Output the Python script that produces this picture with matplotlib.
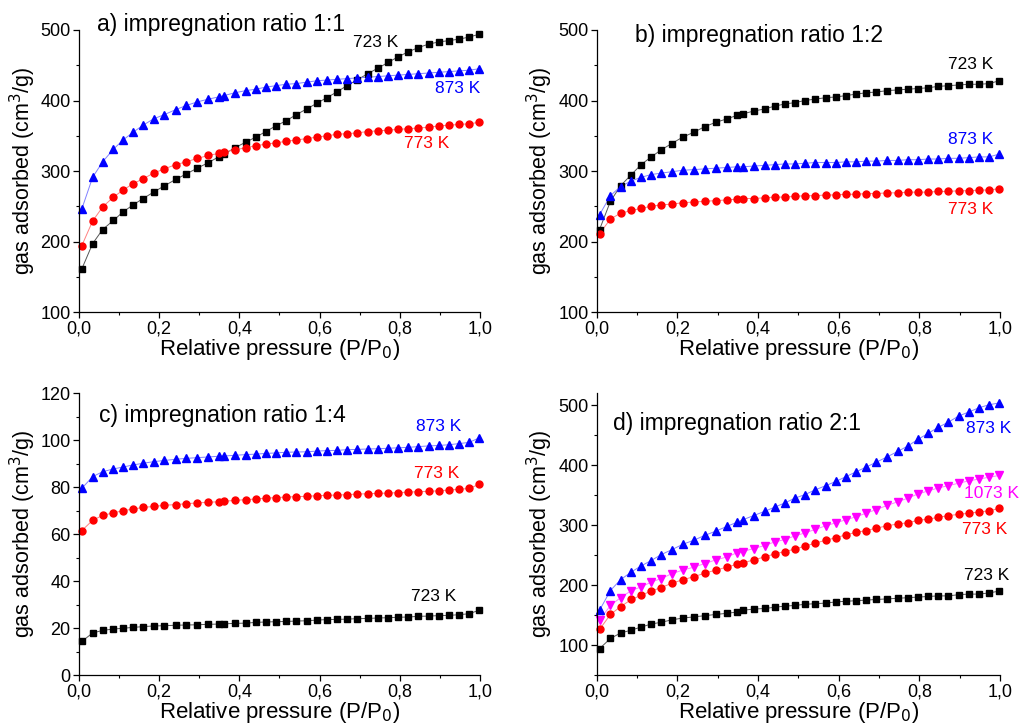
import matplotlib
matplotlib.use("Agg")
import matplotlib.pyplot as plt
from matplotlib.ticker import MultipleLocator, FuncFormatter

plt.rcParams["font.family"] = ["Liberation Sans", "DejaVu Sans"]

# relative pressure points (shared by all isotherms)
p_rel = [0.007, 0.034, 0.059, 0.086, 0.110, 0.135, 0.160, 0.186, 0.213, 0.241,
         0.268, 0.295, 0.323, 0.348, 0.362, 0.389, 0.416, 0.441, 0.466, 0.491,
         0.516, 0.542, 0.568, 0.593, 0.618, 0.643, 0.668, 0.693, 0.720, 0.746,
         0.771, 0.796, 0.821, 0.846, 0.872, 0.897, 0.923, 0.948, 0.973, 0.998]

# a) impregnation ratio 1:1
a_723 = [161, 197, 217, 230, 242, 252, 261, 270, 279, 288, 296, 304, 312, 320, 324,
         333, 341, 348, 356, 364, 371, 380, 388, 396, 404, 412, 421, 429, 438, 446,
         454, 462, 469, 475, 480, 483, 485, 487, 490, 494]
a_773 = [194, 229, 249, 263, 273, 282, 289, 297, 303, 309, 313, 318, 322, 325, 327,
         330, 333, 336, 338, 340, 342, 344, 346, 348, 350, 352, 353, 354, 356, 357,
         358, 359, 360, 361, 362, 364, 365, 366, 367, 369]
a_873 = [246, 291, 313, 331, 344, 355, 365, 374, 380, 387, 393, 398, 402, 405, 407,
         411, 414, 416, 419, 421, 423, 424, 426, 428, 429, 430, 431, 432, 433, 434,
         435, 436, 437, 438, 439, 440, 441, 442, 443, 445]

# b) impregnation ratio 1:2
b_723 = [217, 257, 279, 295, 309, 320, 330, 339, 348, 355, 363, 369, 374, 379, 381,
         385, 388, 392, 395, 397, 400, 402, 404, 405, 407, 409, 411, 412, 414, 415,
         416, 417, 418, 420, 421, 422, 423, 423, 424, 428]
b_773 = [211, 232, 240, 244, 247, 250, 252, 253, 255, 256, 257, 258, 259, 260, 261,
         261, 262, 263, 263, 264, 265, 265, 266, 266, 267, 267, 268, 268, 269, 269,
         270, 270, 270, 271, 271, 272, 272, 273, 273, 275]
b_873 = [238, 265, 278, 286, 291, 295, 297, 299, 301, 302, 303, 304, 305, 306, 306,
         307, 308, 309, 310, 310, 311, 312, 312, 312, 313, 313, 314, 314, 315, 315,
         316, 316, 317, 317, 318, 318, 319, 320, 320, 324]

# c) impregnation ratio 1:4
c_723 = [14.3, 17.9, 19.0, 19.6, 19.9, 20.3, 20.6, 20.9, 21.0, 21.2, 21.3, 21.4, 21.6,
         21.7, 21.8, 22.0, 22.1, 22.4, 22.6, 22.7, 22.8, 23.0, 23.1, 23.4, 23.6, 23.7,
         23.8, 24.0, 24.1, 24.3, 24.4, 24.6, 24.7, 25.0, 25.1, 25.3, 25.4, 25.7, 26.1, 27.6]
c_773 = [61.5, 65.9, 68.0, 69.1, 70.0, 70.7, 71.4, 71.8, 72.3, 72.6, 73.0, 73.3, 73.6,
         73.8, 74.0, 74.4, 74.7, 75.0, 75.3, 75.6, 75.8, 76.0, 76.1, 76.4, 76.5, 76.7,
         76.8, 77.1, 77.2, 77.4, 77.5, 77.7, 77.9, 78.1, 78.2, 78.5, 78.8, 79.1, 79.5, 81.2]
c_873 = [79.5, 84.5, 86.6, 87.8, 88.6, 89.5, 90.2, 90.9, 91.4, 91.9, 92.3, 92.6, 92.9,
         93.2, 93.3, 93.6, 93.9, 94.1, 94.4, 94.6, 94.9, 95.0, 95.1, 95.4, 95.6, 95.7,
         96.0, 96.1, 96.3, 96.4, 96.6, 96.8, 97.0, 97.3, 97.6, 97.8, 98.1, 98.6, 99.1, 101.0]

# d) impregnation ratio 2:1
d_723 = [94, 111, 120, 125, 130, 135, 138, 142, 145, 147, 149, 151, 153, 155, 158,
         160, 161, 163, 165, 166, 168, 169, 170, 172, 173, 174, 175, 176, 177, 178,
         179, 180, 181, 182, 182, 184, 185, 185, 187, 190]
d_773 = [126, 151, 164, 176, 183, 190, 196, 203, 209, 214, 220, 225, 230, 235, 237,
         242, 247, 252, 256, 260, 265, 270, 275, 279, 284, 288, 291, 295, 299, 302,
         304, 308, 310, 313, 316, 318, 320, 322, 324, 328]
d_873 = [158, 191, 209, 222, 232, 241, 251, 259, 268, 275, 283, 290, 298, 305, 309,
         316, 323, 330, 337, 345, 351, 359, 366, 373, 381, 389, 397, 405, 414, 423,
         432, 443, 453, 463, 472, 482, 489, 496, 501, 504]
d_1073 = [142, 166, 179, 191, 197, 205, 211, 219, 225, 230, 236, 242, 247, 254, 256,
          261, 266, 272, 276, 282, 287, 293, 299, 304, 309, 314, 320, 326, 333, 339,
          345, 352, 357, 362, 366, 370, 374, 377, 380, 383]

styles = {
    "723 K": dict(color="black", marker="s", ms=4.6, line="#555555"),
    "773 K": dict(color="red", marker="o", ms=5.0, line="#ff8080"),
    "873 K": dict(color="blue", marker="^", ms=5.4, line="#8080ff"),
    "1073 K": dict(color="magenta", marker="v", ms=5.4, line="#ff80ff"),
}

panels = [
    dict(pos=[0.0775, 0.5714, 0.3935, 0.3874], title="a) impregnation ratio 1:1",
         tpos=(0.045, 1.018), ylim=(100, 500), major=100, minor=50,
         series=[("723 K", a_723, (0.796, 0.954)), ("773 K", a_773, (0.923, 0.599)),
                 ("873 K", a_873, (1.0, 0.794))]),
    dict(pos=[0.5856, 0.5714, 0.3958, 0.3874], title="b) impregnation ratio 1:2",
         tpos=(0.095, 0.982), ylim=(100, 500), major=100, minor=50,
         series=[("723 K", b_723, (0.982, 0.876)), ("773 K", b_773, (0.982, 0.362)),
                 ("873 K", b_873, (0.982, 0.613))]),
    dict(pos=[0.0775, 0.0728, 0.3935, 0.3869], title="c) impregnation ratio 1:4",
         tpos=(0.051, 0.923), ylim=(0, 120), major=20, minor=10,
         series=[("723 K", c_723, (0.940, 0.278)), ("773 K", c_773, (0.948, 0.716)),
                 ("873 K", c_873, (0.954, 0.881))]),
    dict(pos=[0.5856, 0.0728, 0.3958, 0.3869], title="d) impregnation ratio 2:1",
         tpos=(0.040, 0.894), ylim=(50, 520), major=100, minor=50,
         series=[("723 K", d_723, (1.023, 0.355)), ("773 K", d_773, (1.017, 0.515)),
                 ("1073 K", d_1073, (1.047, 0.643)), ("873 K", d_873, (1.027, 0.876))]),
]

comma = FuncFormatter(lambda v, pos: f"{v:.1f}".replace(".", ","))

fig = plt.figure(figsize=(10.19, 7.28), dpi=100)
for pnl in panels:
    ax = fig.add_axes(pnl["pos"])
    for name, vals, lpos in pnl["series"]:
        st = styles[name]
        ax.plot(p_rel, vals, color=st["line"], lw=0.7, zorder=1)
        ax.plot(p_rel, vals, ls="none", marker=st["marker"], ms=st["ms"],
                color=st["color"], mec=st["color"], zorder=2, clip_on=False)
        ax.text(lpos[0], lpos[1], name, color=st["color"], fontsize=12.5,
                ha="right", va="center", transform=ax.transAxes)
    ax.text(pnl["tpos"][0], pnl["tpos"][1], pnl["title"], fontsize=16.5,
            ha="left", va="center", transform=ax.transAxes)
    ax.set_xlim(0, 1.0)
    ax.set_ylim(*pnl["ylim"])
    ax.xaxis.set_major_locator(MultipleLocator(0.2))
    ax.xaxis.set_minor_locator(MultipleLocator(0.1))
    ax.xaxis.set_major_formatter(comma)
    ax.yaxis.set_major_locator(MultipleLocator(pnl["major"]))
    ax.yaxis.set_minor_locator(MultipleLocator(pnl["minor"]))
    ax.spines["top"].set_visible(False)
    ax.spines["right"].set_visible(False)
    for s in ("left", "bottom"):
        ax.spines[s].set_linewidth(0.9)
    ax.tick_params(which="major", direction="out", length=4, width=0.9, labelsize=13, pad=2)
    ax.tick_params(which="minor", direction="out", length=2, width=0.8)
    ax.set_xlabel("Relative pressure (P/P$_0$)", fontsize=16, labelpad=0)
    ax.set_ylabel("gas adsorbed (cm$^3$/g)", fontsize=15.5, labelpad=2)

fig.savefig("out.png", dpi=100)
